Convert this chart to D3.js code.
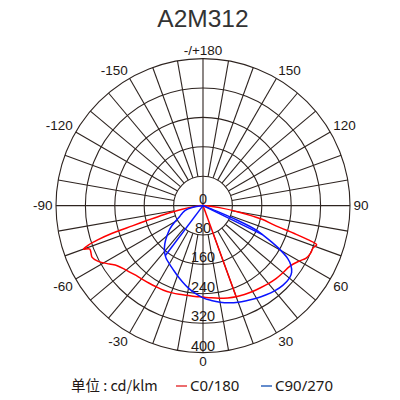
<!DOCTYPE html>
<html>
<head>
<meta charset="utf-8">
<script src="https://cdn.jsdelivr.net/npm/d3@7"></script>
<style>
  body { margin: 0; background: #fff; }
  text { font-family: "Liberation Sans", Arial, sans-serif; fill: #231815; }
</style>
</head>
<body>
<svg width="400" height="400"></svg>
<script>
'use strict';

// intensity values in cd/klm, angle 0 = straight down, +90 = right
const redAngles = [-90, -84, -80, -77, -75, -74, -73, -72, -71, -70, -69, -67, -65, -62, -58, -55, -50, -45, -40, -35, -30, -25, -20, -15, -10, -5, 0, 5, 10, 15, 20, 25, 30, 35, 40, 45, 50, 55, 60, 63, 66, 69, 71, 72, 73, 74, 75, 77, 80, 83, 86, 90];
const redValues = [0, 20, 60, 110, 160, 200, 260, 300, 330, 346, 330, 331, 333, 323, 300, 285, 273, 265, 260, 257, 255, 254, 252, 250, 248, 248, 249, 252, 256, 260, 264, 267, 270, 273, 277, 281, 284, 288, 302, 315, 320, 321, 327, 300, 260, 220, 195, 165, 95, 45, 15, 0];

const blueAngles = [-85, -80, -75, -70, -65, -60, -55, -50, -45, -40, -35, -30, -25, -20, -15, -10, -5, 0, 5, 10, 15, 20, 25, 30, 35, 40, 45, 50, 53, 56, 58, 60, 62, 64, 65, 66, 67, 68, 70];
const blueValues = [0, 30, 50, 60, 70, 88, 110, 128, 147, 163, 175, 183, 192, 203, 215, 228, 240, 251, 259, 267, 274, 280, 285, 291, 297, 303, 307, 307, 302, 288, 272, 245, 212, 180, 165, 140, 100, 40, 0];

// single-angle drops to zero in the measured data (show as radial strokes)
const redSpikeAngles = [20];
const redSpikeValues = [264];
const blueSpikeAngles = [-37, 64];
const blueSpikeValues = [170, 180];

const radialTicks = [0, 80, 160, 240, 320, 400];
const angleTicks = [-150, -120, -90, -60, -30, 0, 30, 60, 90, 120, 150, 180];
const angleLabels = ['-150', '-120', '-90', '-60', '-30', '0', '30', '60', '90', '120', '150', '-/+180'];

const title = 'A2M312';
const unitText = '单位 : cd/klm';
const seriesNames = ['C0/180', 'C90/270'];

const svg = d3.select('svg');
const cx = 203, cy = 205.6;

const r = d3.scaleLinear().domain([0, 400]).range([0, 147]);
// chart degrees -> d3 radial angle (0 at 12 o'clock, clockwise)
const toRad = deg => Math.PI - deg * Math.PI / 180;
const gridColor = '#2e2420';

svg.append('text')
  .attr('x', cx).attr('y', 26.5)
  .attr('text-anchor', 'middle')
  .style('font-size', '24.5px')
  .style('fill', '#333')
  .text(title);

const g = svg.append('g')
  .attr('transform', `translate(${cx},${cy})`);

// rings
g.selectAll('circle.ring')
  .data(radialTicks.slice(1))
  .join('circle')
    .attr('class', 'ring')
    .attr('r', d => r(d))
    .attr('fill', 'none')
    .attr('stroke', gridColor)
    .attr('stroke-width', 1.1);

// spokes every 10 degrees; main axes run through the centre
const spokes = d3.range(-170, 190, 10);
g.selectAll('line.spoke')
  .data(spokes)
  .join('line')
    .attr('class', 'spoke')
    .each(function (d) {
      const a = toRad(d);
      const r0 = d % 90 === 0 ? 0 : r(radialTicks[1]);
      const r1 = r(radialTicks[radialTicks.length - 1]);
      d3.select(this)
        .attr('x1', r0 * Math.sin(a)).attr('y1', -r0 * Math.cos(a))
        .attr('x2', r1 * Math.sin(a)).attr('y2', -r1 * Math.cos(a));
    })
    .attr('stroke', gridColor)
    .attr('stroke-width', 1.1);

// angle labels just outside the outer ring
const labelR = r(400) + 3.5;
g.selectAll('text.angle')
  .data(angleTicks)
  .join('text')
    .attr('class', 'angle')
    .each(function (d, i) {
      const a = toRad(d);
      const sx = Math.sin(a), sy = -Math.cos(a);
      d3.select(this)
        .attr('x', labelR * sx)
        .attr('y', labelR * sy)
        .attr('text-anchor', sx > 0.1 ? 'start' : sx < -0.1 ? 'end' : 'middle')
        .attr('dy', sy > 0.1 ? '0.72em' : sy < -0.1 ? '0' : '0.36em')
        .style('font-size', '13.5px')
        .text(angleLabels[i]);
    });

// value labels down the 0 axis
g.selectAll('text.value')
  .data(radialTicks)
  .join('text')
    .attr('class', 'value')
    .attr('x', 0)
    .attr('y', d => r(d) - 2)
    .attr('text-anchor', 'middle')
    .style('font-size', '14.5px')
    .text(d => d);

const curve = d3.lineRadial()
  .angle(d => toRad(d[0]))
  .radius(d => r(d[1]))
  .curve(d3.curveCatmullRom.alpha(0.5));

const spike = d3.lineRadial()
  .angle(d => toRad(d[0]))
  .radius(d => r(d[1]));

function drawSeries(angles, values, spikeA, spikeV, color) {
  g.append('path')
    .attr('d', curve(d3.zip(angles, values)))
    .attr('fill', 'none')
    .attr('stroke', color)
    .attr('stroke-width', 1.5);
  spikeA.forEach((a, i) => {
    g.append('path')
      .attr('d', spike([[a, 0], [a, spikeV[i]]]))
      .attr('fill', 'none')
      .attr('stroke', color)
      .attr('stroke-width', 1.5);
  });
}

drawSeries(redAngles, redValues, redSpikeAngles, redSpikeValues, '#ff0000');
drawSeries(blueAngles, blueValues, blueSpikeAngles, blueSpikeValues, '#0a14ff');

// legend
const legend = svg.append('g').attr('transform', 'translate(0,386)');
legend.append('text')
  .attr('x', 71).attr('dy', '0.36em')
  .style('font-family', '"Noto Sans CJK SC", "Noto Sans", sans-serif')
  .style('font-size', '14.5px')
  .text(unitText);

const legendColors = ['#e8474a', '#3d6fc0'];
const legendX = [176, 261];
seriesNames.forEach((name, i) => {
  legend.append('line')
    .attr('x1', legendX[i]).attr('x2', legendX[i] + 11)
    .attr('stroke', legendColors[i])
    .attr('stroke-width', 1.6);
  legend.append('text')
    .attr('x', legendX[i] + 14).attr('dy', '0.36em')
    .style('font-family', '"Noto Sans", sans-serif')
    .style('font-size', '15px')
    .text(name);
});
</script>
</body>
</html>
